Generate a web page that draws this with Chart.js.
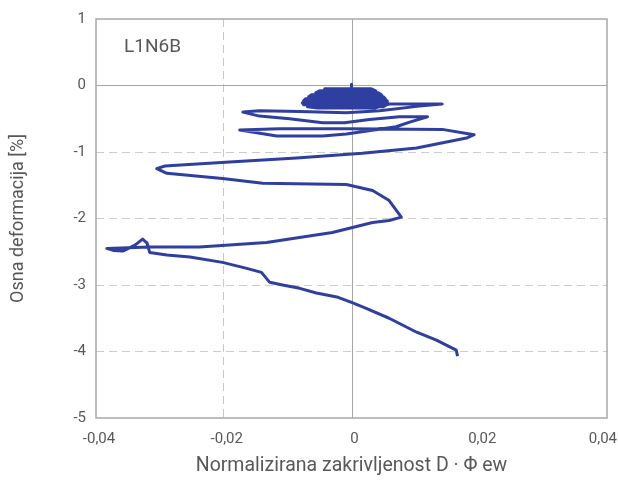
<!DOCTYPE html>
<html>
<head>
<meta charset="utf-8">
<script src="https://cdn.jsdelivr.net/npm/chart.js@4.4.1/dist/chart.umd.min.js"></script>
<style>
    html, body { margin: 0; padding: 0; background: #fff; }
    #wrap { width: 618px; height: 482px; }
</style>
</head>
<body>
<div id="wrap"><canvas id="grafik" width="618" height="482"></canvas></div>
<script>
// krivulja L1N6B (ocitano sa slike)
const zakrivljenost = [
    0, 0, 0, -0.0042, 0.0031, 0.0038, -0.0050, -0.0056, 0.0042, 0.0047, -0.0063, -0.0067, 0.0050, 0.0053, -0.0072,
    -0.0075, 0.0056, 0.0056, -0.0077, -0.0075, 0.0055, 0.0050, -0.0069, -0.0053, 0.0036, 0.0059,
    0.0142, 0.0106, 0.0044, -0.0008, -0.0081, -0.0144, -0.0170,
    -0.0144, -0.0097, -0.0045, -0.0011, 0.0028, 0.0075, 0.0119,
    0.0091, 0.0070, -0.0008, -0.0045, -0.0117, -0.0175,
    -0.0113, -0.0003, 0.0142, 0.0192,
    0.0180, 0.0102, 0.0017, -0.0086, -0.0191, -0.0242, -0.0292, -0.0305,
    -0.0289, -0.0202, -0.0139, -0.0008, 0.0033, 0.0059, 0.0078,
    0.0059, 0.0033, -0.0030, -0.0133, -0.0238, -0.0316, -0.0383,
    -0.0373, -0.0358, -0.0339, -0.0327, -0.0320, -0.0316, -0.0289, -0.0253, -0.0202, -0.0164, -0.0141, -0.0128,
    -0.0108, -0.0081, -0.0055, -0.0023, 0.0002, 0.0023, 0.0059, 0.0102, 0.0133, 0.0164, 0.0166
];
const deformacija = [
    0.01, 0.02, -0.05, -0.05, -0.05, -0.08, -0.08, -0.11, -0.11, -0.14, -0.14, -0.17, -0.17, -0.20, -0.20,
    -0.23, -0.23, -0.26, -0.26, -0.29, -0.29, -0.32, -0.32, -0.34, -0.34, -0.28,
    -0.28, -0.31, -0.38, -0.41, -0.39, -0.38, -0.40,
    -0.46, -0.50, -0.56, -0.56, -0.51, -0.47, -0.47,
    -0.55, -0.62, -0.73, -0.76, -0.76, -0.67,
    -0.65, -0.65, -0.66, -0.74,
    -0.79, -0.94, -1.02, -1.09, -1.15, -1.18, -1.21, -1.25,
    -1.32, -1.40, -1.47, -1.49, -1.58, -1.73, -1.98,
    -2.03, -2.06, -2.21, -2.36, -2.43, -2.43, -2.45,
    -2.48, -2.49, -2.40, -2.31, -2.37, -2.51, -2.55, -2.58, -2.66, -2.75, -2.81, -2.96,
    -3.00, -3.05, -3.12, -3.18, -3.27, -3.35, -3.50, -3.71, -3.83, -3.98, -4.07
];

const xTicks = [-0.04, -0.02, 0, 0.02, 0.04];
const yTicks = [1, 0, -1, -2, -3, -4, -5];
const oznaka = 'L1N6B';

const plavaLinija = '#2f3f9f';
const sivaTekst = '#585858';
const font = 'Roboto, "Open Sans", sans-serif';

var tocke = zakrivljenost.map((x, i) => ({ x: x, y: deformacija[i] }));

function formatX(v) {
    if (Math.abs(v) < 1e-9) return '0';
    return v.toFixed(2).replace('.', ',');
}

function formatY(v) {
    return String(Math.round(v));
}

// okvir, nulte linije i oznaka uzorka
const okvirPlugin = {
    id: 'okvir',
    beforeDatasetsDraw(chart) {
        var ctx = chart.ctx;
        var a = chart.chartArea;
        var x0 = chart.scales.x.getPixelForValue(0);
        var y0 = chart.scales.y.getPixelForValue(0);
        ctx.save();
        ctx.strokeStyle = '#a6a6a6';
        ctx.lineWidth = 1;
        ctx.beginPath();
        ctx.moveTo(Math.round(x0) + 0.5, a.top);
        ctx.lineTo(Math.round(x0) + 0.5, a.bottom);
        ctx.moveTo(a.left, Math.round(y0) + 0.5);
        ctx.lineTo(a.right, Math.round(y0) + 0.5);
        ctx.stroke();
        ctx.lineWidth = 1.5;
        ctx.strokeStyle = '#a8a8a8';
        ctx.strokeRect(a.left, a.top, a.right - a.left, a.bottom - a.top);
        ctx.fillStyle = sivaTekst;
        ctx.font = '19px ' + font;
        ctx.textBaseline = 'middle';
        ctx.fillText(oznaka, a.left + 28, a.top + 28);
        ctx.restore();
    },
    // oznake x osi, zadnja ostaje unutar platna
    afterDraw(chart) {
        var ctx = chart.ctx;
        var sx = chart.scales.x;
        ctx.save();
        ctx.fillStyle = sivaTekst;
        ctx.font = '15px ' + font;
        ctx.textAlign = 'center';
        ctx.textBaseline = 'middle';
        xTicks.forEach(function(v) {
            var t = formatX(v);
            var w = ctx.measureText(t).width;
            var px = Math.min(sx.getPixelForValue(v) + 3, chart.width - w / 2 - 1);
            ctx.fillText(t, px, chart.chartArea.bottom + 21);
        });
        ctx.restore();
    }
};

var canvas = document.getElementById('grafik');
var ctx = canvas.getContext('2d');
new Chart(ctx, {
    type: 'scatter',
    data: {
        datasets: [{
            data: tocke,
            showLine: true,
            borderColor: plavaLinija,
            borderWidth: 3,
            borderJoinStyle: 'round',
            pointRadius: 0,
            tension: 0,
            fill: false
        }]
    },
    options: {
        responsive: false,
        animation: false,
        layout: { padding: { top: 17, right: 11, left: 0, bottom: 0 } },
        plugins: {
            legend: { display: false },
            tooltip: { enabled: false }
        },
        scales: {
            x: {
                type: 'linear',
                min: -0.04,
                max: 0.04,
                afterBuildTicks: (s) => { s.ticks = xTicks.map(v => ({ value: v })); },
                afterFit: (s) => { s.height = 64; s.paddingLeft = 0; s.paddingRight = 0; },
                ticks: { display: false },
                grid: {
                    drawTicks: false,
                    color: (c) => (c.tick && Math.abs(c.tick.value + 0.02) < 1e-9) ? '#c9c9c9' : 'rgba(0,0,0,0)',
                    lineWidth: 1
                },
                border: { display: false, dash: [8, 5] },
                title: {
                    display: true,
                    text: 'Normalizirana zakrivljenost D · Φ ew',
                    color: sivaTekst,
                    font: { family: font, size: 19.5 },
                    padding: { top: 8 }
                }
            },
            y: {
                type: 'linear',
                min: -5,
                max: 1,
                afterBuildTicks: (s) => { s.ticks = yTicks.map(v => ({ value: v })); },
                afterFit: (s) => { s.width = 96; },
                ticks: {
                    callback: formatY,
                    color: sivaTekst,
                    font: { family: font, size: 15 },
                    padding: 10
                },
                grid: {
                    drawTicks: false,
                    color: (c) => (c.tick && c.tick.value < 0 && c.tick.value > -5) ? '#cccccc' : 'rgba(0,0,0,0)',
                    lineWidth: 1
                },
                border: { display: false, dash: [8, 5] },
                title: {
                    display: true,
                    text: 'Osna deformacija [%]',
                    color: sivaTekst,
                    font: { family: font, size: 18 },
                    padding: { top: 8, bottom: 0 }
                }
            }
        }
    },
    plugins: [okvirPlugin]
});
</script>
</body>
</html>
